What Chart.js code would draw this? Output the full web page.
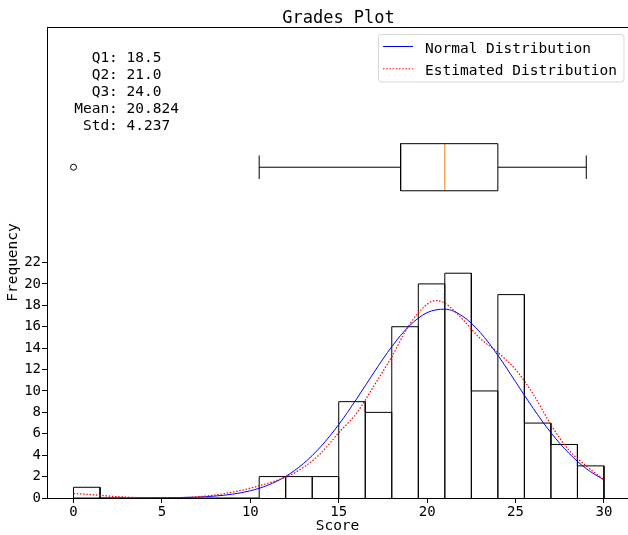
<!DOCTYPE html>
<html>
<head>
<meta charset="utf-8">
<script src="https://cdn.jsdelivr.net/npm/chart.js@4.4.1/dist/chart.umd.min.js"></script>
<style>
  html, body { margin: 0; padding: 0; background: #fff; }
</style>
</head>
<body>
<canvas id="gradesChart" width="628" height="535"></canvas>
<script>
// Histogram bins (edges) and counts per bin
const binEdges = [0, 1.5, 3, 4.5, 6, 7.5, 9, 10.5, 12, 13.5, 15, 16.5, 18, 19.5, 21, 22.5, 24, 25.5, 27, 28.5, 30];
const binCounts = [1, 0, 0, 0, 0, 0, 0, 2, 2, 2, 9, 8, 16, 20, 21, 10, 19, 7, 5, 3];

// Normal distribution curve
const curveX = [0, 1, 2, 3, 4, 5, 6, 7, 8, 9, 10, 11, 12, 13, 14, 15, 16, 17, 18, 19, 20, 21, 22, 23, 24, 25, 26, 27, 28, 29, 30];
const normalY = [0.0001, 0.0003, 0.0009, 0.0025, 0.0067, 0.0165, 0.039, 0.086, 0.181, 0.359, 0.676, 1.20, 2.02, 3.21, 4.83, 6.86,
                 9.23, 11.75, 14.14, 16.09, 17.32, 17.64, 16.99, 15.47, 13.33, 10.86, 8.37, 6.10, 4.21, 2.74, 1.69];

// Estimated (kernel density) curve
const kdeX = [0, 1, 2, 3, 4, 5, 6, 7, 8, 9, 10, 11, 12, 13, 14, 15, 16, 17, 18, 19, 20, 20.5, 21, 22, 23, 24, 25, 26, 27, 28, 29, 30];
const kdeY = [0.42, 0.32, 0.18, 0.08, 0.03, 0.02, 0.04, 0.12, 0.28, 0.55, 0.92, 1.38, 1.95, 2.85, 4.2, 6.1, 7.9, 10.5, 13.2, 16.2,
              18.1, 18.45, 18.2, 16.7, 14.9, 13.6, 12.0, 9.7, 6.85, 4.5, 3.0, 1.7];

// Box plot: lower whisker, Q1, median, Q3, upper whisker
const boxStats = [10.5, 18.5, 21.0, 24.0, 29.0];
const outliers = [0];

const statNames = ['Q1', 'Q2', 'Q3', 'Mean', 'Std'];
const statValues = ['18.5', '21.0', '24.0', '20.824', '4.237'];

const seriesNames = ['Normal Distribution', 'Estimated Distribution'];
const xTicks = [0, 5, 10, 15, 20, 25, 30];
const yTicks = [0, 2, 4, 6, 8, 10, 12, 14, 16, 18, 20, 22];

const FONT = 'DejaVu Sans Mono';
const BOX_Y = 30.9;      // vertical position of box plot (data units)
const BOX_HALF = 2.2;
const CAP_HALF = 1.1;

// histogram outline: every bar traced up, across, down
const histOutline = [];
binCounts.forEach((c, i) => {
    histOutline.push({ x: binEdges[i], y: 0 });
    histOutline.push({ x: binEdges[i], y: c });
    histOutline.push({ x: binEdges[i + 1], y: c });
    histOutline.push({ x: binEdges[i + 1], y: 0 });
});
const normalPts = curveX.map((x, i) => ({ x: x, y: normalY[i] }));
const kdePts = kdeX.map((x, i) => ({ x: x, y: kdeY[i] }));

const [lo, q1, med, q3, hi] = boxStats;
const boxRect = [
    { x: q1, y: BOX_Y - BOX_HALF }, { x: q3, y: BOX_Y - BOX_HALF },
    { x: q3, y: BOX_Y + BOX_HALF }, { x: q1, y: BOX_Y + BOX_HALF },
    { x: q1, y: BOX_Y - BOX_HALF }
];
const whiskers = [
    { x: lo, y: BOX_Y }, { x: q1, y: BOX_Y }, { x: q1, y: null },
    { x: q3, y: BOX_Y }, { x: hi, y: BOX_Y }
];
const caps = [
    { x: lo, y: BOX_Y - CAP_HALF }, { x: lo, y: BOX_Y + CAP_HALF }, { x: lo, y: null },
    { x: hi, y: BOX_Y - CAP_HALF }, { x: hi, y: BOX_Y + CAP_HALF }
];
const medianLine = [{ x: med, y: BOX_Y - BOX_HALF }, { x: med, y: BOX_Y + BOX_HALF }];
const outlierPts = outliers.map(v => ({ x: v, y: BOX_Y }));

function plainLine(data, color, order) {
    return {
        type: 'line', data: data, borderColor: color, borderWidth: 1,
        pointRadius: 0, tension: 0, fill: false, spanGaps: false, order: order
    };
}

// extra drawing: title, top spine, stats text, legend
const extrasPlugin = {
    id: 'extras',
    afterDraw(chart) {
        const { ctx, chartArea, scales: { x, y } } = chart;
        ctx.save();

        // top spine
        ctx.strokeStyle = '#000';
        ctx.lineWidth = 1;
        ctx.beginPath();
        ctx.moveTo(chartArea.left, chartArea.top + 0.5);
        ctx.lineTo(chartArea.right, chartArea.top + 0.5);
        ctx.stroke();

        // title
        ctx.fillStyle = '#000';
        ctx.font = '17px "' + FONT + '"';
        ctx.textAlign = 'center';
        ctx.textBaseline = 'alphabetic';
        ctx.fillText('Grades Plot', (chartArea.left + 630) / 2, 22.5);

        // stats block, centred at data (3, 38)
        ctx.font = '14.5px "' + FONT + '"';
        const lines = statNames.map((n, i) => n + ': ' + statValues[i]);
        const cx = x.getPixelForValue(3);
        const cy = y.getPixelForValue(38);
        lines.forEach((t, i) => {
            ctx.fillText(t, cx, cy + (i - 2) * 17 + 5);
        });

        // legend
        const lx = 378.5, ly = 34.5, lw = 245.5, lh = 47.5;
        ctx.fillStyle = 'rgba(255,255,255,0.8)';
        ctx.strokeStyle = 'rgba(204,204,204,0.8)';
        ctx.beginPath();
        ctx.roundRect(lx, ly, lw, lh, 3);
        ctx.fill();
        ctx.stroke();

        const colors = ['#0000ff', '#ff0000'];
        const dashes = [[], [1.5, 1.7]];
        ctx.textAlign = 'left';
        seriesNames.forEach((name, i) => {
            const rowY = 46.5 + i * 22.3;
            ctx.strokeStyle = colors[i];
            ctx.setLineDash(dashes[i]);
            ctx.beginPath();
            ctx.moveTo(383, rowY);
            ctx.lineTo(413, rowY);
            ctx.stroke();
            ctx.setLineDash([]);
            ctx.fillStyle = '#000';
            ctx.fillText(name, 425, rowY + 6.3);
        });

        ctx.restore();
    }
};

const ctx = document.getElementById('gradesChart').getContext('2d');
new Chart(ctx, {
    type: 'line',
    data: {
        datasets: [
            {
                type: 'line', label: seriesNames[1], data: kdePts,
                borderColor: '#ff0000', borderWidth: 1.2, borderDash: [1.5, 1.7],
                pointRadius: 0, cubicInterpolationMode: 'monotone', fill: false, order: 0
            },
            {
                type: 'line', label: seriesNames[0], data: normalPts,
                borderColor: '#0000ff', borderWidth: 1,
                pointRadius: 0, cubicInterpolationMode: 'monotone', fill: false, order: 1
            },
            plainLine(histOutline, '#000', 3),
            plainLine(boxRect, '#000', 2),
            plainLine(whiskers, '#000', 2),
            plainLine(caps, '#000', 2),
            plainLine(medianLine, '#ff7f0e', 2),
            {
                type: 'line', data: outlierPts, showLine: false,
                pointRadius: 3, pointStyle: 'circle', pointBorderColor: '#000',
                pointBackgroundColor: 'rgba(0,0,0,0)', pointBorderWidth: 1, order: 2
            }
        ]
    },
    options: {
        responsive: false,
        animation: false,
        devicePixelRatio: 1,
        layout: { autoPadding: false, padding: { top: 27, right: 0, bottom: 0, left: 0 } },
        plugins: {
            legend: { display: false },
            title: { display: false },
            tooltip: { enabled: false }
        },
        scales: {
            x: {
                type: 'linear',
                min: -1.5,
                max: 31.36,
                offset: false,
                afterBuildTicks: (axis) => { axis.ticks = xTicks.map(v => ({ value: v })); },
                afterFit: (axis) => { axis.height = 37; axis.paddingLeft = 0; axis.paddingRight = 0; },
                grid: { drawOnChartArea: false, drawTicks: true, tickLength: 5, color: '#000', offset: false },
                border: { display: true, color: '#000', width: 1 },
                ticks: { color: '#000', font: { family: FONT, size: 14 }, padding: 1, maxRotation: 0, autoSkip: false },
                title: { display: true, text: 'Score', color: '#000', font: { family: FONT, size: 14.5 }, padding: { top: -2, bottom: 0 } }
            },
            y: {
                type: 'linear',
                min: 0,
                max: 44,
                afterBuildTicks: (axis) => { axis.ticks = yTicks.map(v => ({ value: v })); },
                afterFit: (axis) => { axis.width = 47; axis.paddingTop = 0; axis.paddingBottom = 0; },
                grid: { drawOnChartArea: false, drawTicks: true, tickLength: 5, color: '#000' },
                border: { display: true, color: '#000', width: 1 },
                ticks: { color: '#000', font: { family: FONT, size: 14 }, padding: 1, autoSkip: false },
                title: { display: true, text: 'Frequency', color: '#000', font: { family: FONT, size: 14.5 }, padding: { top: 5, bottom: 0 } }
            }
        }
    },
    plugins: [extrasPlugin]
});
</script>
</body>
</html>
